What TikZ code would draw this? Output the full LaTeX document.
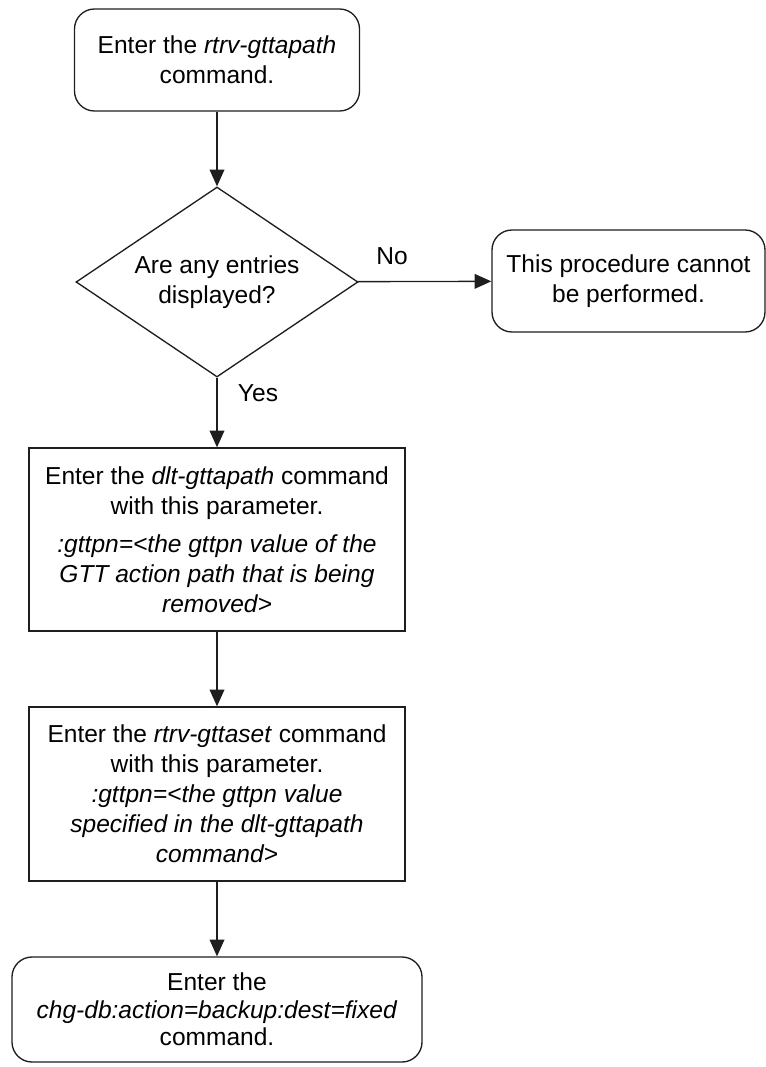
\documentclass[tikz,border=0pt]{standalone}
\usepackage{fontspec}
\setmainfont{Liberation Sans}
\usetikzlibrary{arrows.meta, positioning, shapes.geometric}
\definecolor{fline}{HTML}{1E1E1E}
\newcommand{\flowfont}{\fontsize{18.4}{22.5}\selectfont}
\tikzset{
  termbox/.style={draw=fline, rounded corners=15pt, align=center,
                  inner sep=0pt, font=\flowfont},
  procbox/.style={draw=fline, align=center, inner sep=0pt, font=\flowfont},
  decbox/.style={draw=fline, diamond, aspect=1.484, align=center,
                 inner sep=0pt, font=\flowfont},
  lbl/.style={font=\flowfont, inner sep=0pt},
  arr/.style={-{Triangle[length=12.5pt,width=11pt]}, fline},
}

\begin{document}
\begin{tikzpicture}[x=0.75pt, y=-0.75pt, line width=1pt]
  \useasboundingbox (0,0) rectangle (766,1067);
  \node[termbox, minimum width=213.75pt, minimum height=76.5pt] (start) at (217,60)
    {Enter the \textit{rtrv-gttapath}\\command.};
  \node[decbox, minimum width=211.5pt, minimum height=142.5pt] (anyent) at (217,282)
    {Are any entries\\displayed?};
  \node[termbox, minimum width=204.75pt, minimum height=76.5pt] (cannot) at (628.5,281)
    {This procedure cannot\\be performed.};
  \node[procbox, minimum width=282pt, minimum height=137.25pt] (dltpath) at (217,539.5)
    {Enter the \textit{dlt-gttapath} command\\with this parameter.\\[6pt]
     \textit{:gttpn=<the gttpn value of the}\\\textit{GTT action path that is being}\\
     \textit{removed>}};
  \node[procbox, minimum width=282pt, minimum height=130.5pt] (rtrvset) at (217,794)
    {Enter the \textit{rtrv-gttaset} command\\with this parameter.\\
     \textit{:gttpn=<the gttpn value}\\\textit{specified in the dlt-gttapath}\\
     \textit{command>}};
  \node[termbox, minimum width=307.5pt, minimum height=78.75pt] (backup) at (217,1009.5)
    {Enter the\\[-2pt]\textit{chg-db:action=backup:dest=fixed}\\[-2pt]command.};
  \node[lbl] (nolbl) at (392,256) {No};
  \node[lbl] (yeslbl) at (258,393) {Yes};

  \draw[arr] (start) -- (anyent);
  \draw[arr] (anyent) -- (cannot);
  \draw[arr] (anyent) -- (dltpath);
  \draw[arr] (dltpath) -- (rtrvset);
  \draw[arr] (rtrvset) -- (backup);
\end{tikzpicture}
\end{document}
